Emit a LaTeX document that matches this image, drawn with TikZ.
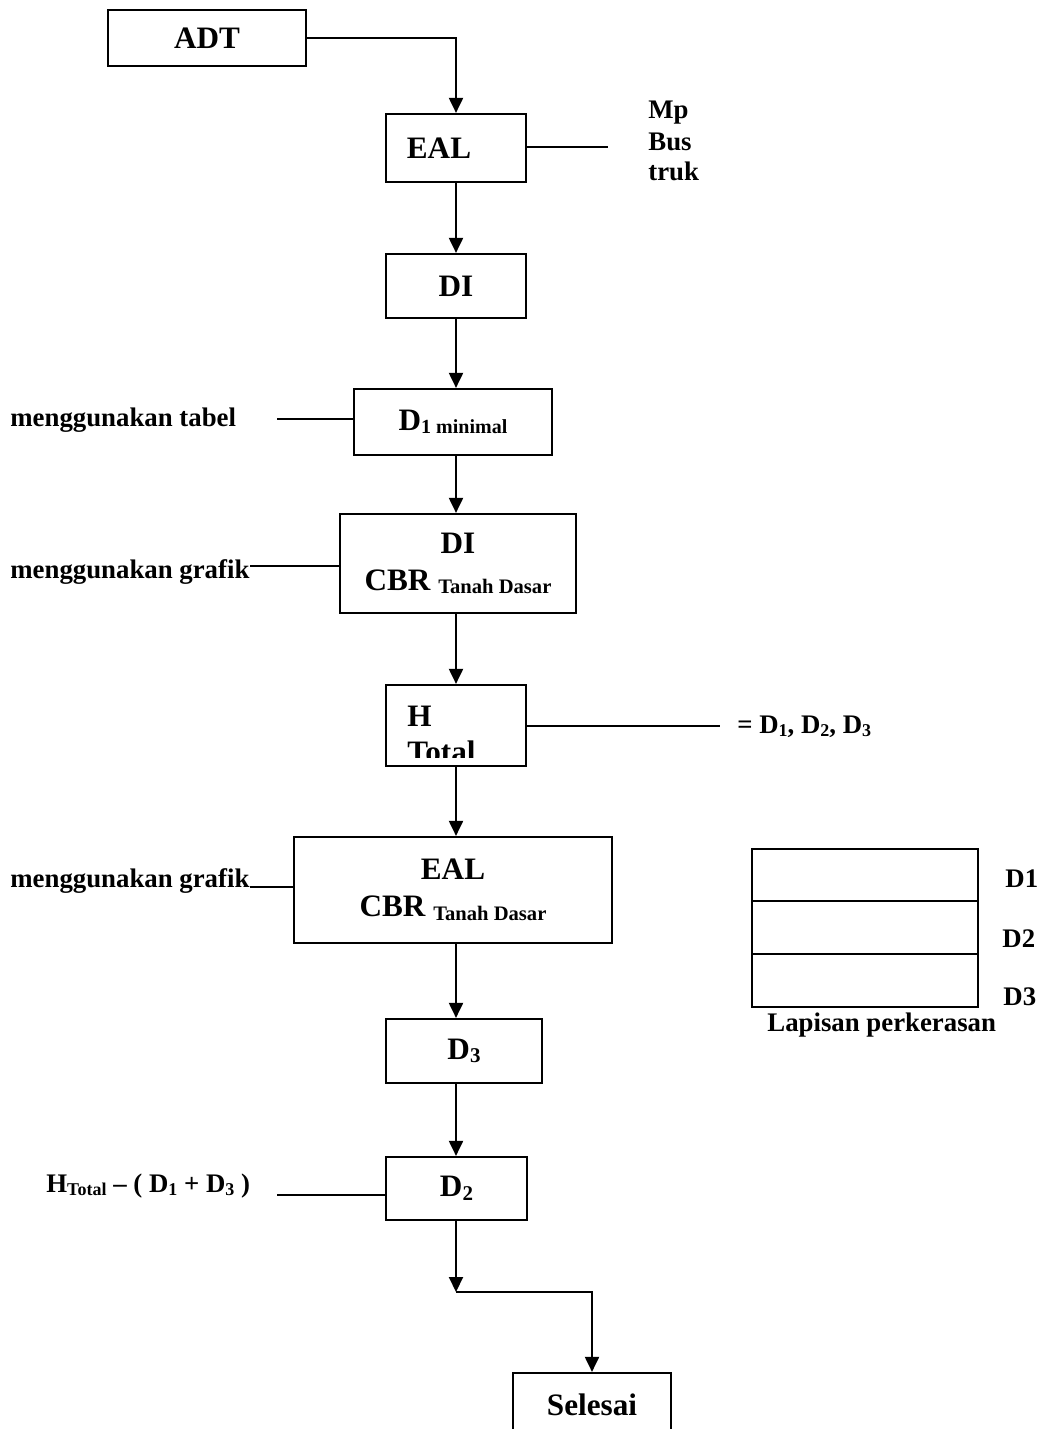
\documentclass[tikz,border=0pt]{standalone}
\usepackage{fontspec}
\setmainfont{Liberation Serif}
\usetikzlibrary{arrows.meta}
\newcommand{\lowsub}[2][10]{\raisebox{-1.8pt}{\fontsize{#1}{#1}\selectfont #2}}

\begin{document}
\begin{tikzpicture}[x=0.5pt, y=-0.5pt,
		box/.style={draw, line width=1.1pt, inner sep=0pt, align=center, font=\fontsize{15.6}{18.5}\selectfont\bfseries},
		txt/.style={inner sep=0pt, anchor=base west, font=\fontsize{15.6}{18.5}\selectfont\bfseries},
		side/.style={inner sep=0pt, anchor=base west, font=\fontsize{13.4}{15.25}\selectfont\bfseries},
		arr/.style={line width=1pt, -{Triangle[length=7.5pt, width=7pt]}},
		link/.style={line width=1pt}]
		\path[use as bounding box] (0,0) rectangle (1043,1429);
		\clip (0,0) rectangle (1043,1429);
		
		\coordinate (spine) at (456,0);
		
		\node[box, minimum width=99pt, minimum height=28pt] (adt) at (207,38) {ADT};
		\node[box, minimum width=70pt, minimum height=34pt] (eal) at (456,148) {EAL\hspace*{17pt}};
		\node[box, minimum width=70pt, minimum height=32pt] (di) at (456,286) {DI};
		\node[box, minimum width=99pt, minimum height=33pt] (dmin) at (453,422) {D\lowsub{1 minimal}};
		\node[box, minimum width=118pt, minimum height=49.5pt] (dicbr) at (458,563.5) {DI\\CBR \lowsub[10.3]{Tanah Dasar}};
		\node[box, minimum width=70pt, minimum height=40.5pt] (htot) at (456,725.5) {};
		\node[box, minimum width=159pt, minimum height=53pt] (ealcbr) at (453,890) {EAL\\CBR \lowsub[10.3]{Tanah Dasar}};
		\node[box, minimum width=78pt, minimum height=32pt] (dtiga) at (464,1051) {D\lowsub[10.5]{3}};
		\node[box, minimum width=70.5pt, minimum height=31.5pt] (ddua) at (456.5,1188.5) {D\lowsub[10.5]{2}};
		\node[box, minimum width=79pt, minimum height=31.5pt] (selesai) at (592,1404.5) {Selesai};
		
		\begin{scope}
			\clip (htot.north west) rectangle ([yshift=5pt]htot.south east);
			\node[txt] (hh) at (407,726) {H};
			\node[txt] (tt) at (407,762) {Total};
		\end{scope}
		
		\draw[arr] (adt.east) -| (eal.north -| spine);
		\draw[arr] (eal.south -| spine) -- (di.north -| spine);
		\draw[arr] (di.south -| spine) -- (dmin.north -| spine);
		\draw[arr] (dmin.south -| spine) -- (dicbr.north -| spine);
		\draw[arr] (dicbr.south -| spine) -- (htot.north -| spine);
		\draw[arr] (htot.south -| spine) -- (ealcbr.north -| spine);
		\draw[arr] (ealcbr.south -| spine) -- (dtiga.north -| spine);
		\draw[arr] (dtiga.south -| spine) -- (ddua.north -| spine);
		\coordinate (belok) at (456,1292);
		\draw[arr] (ddua.south -| spine) -- (belok);
		\draw[arr] (belok) -| (selesai.north);
		
		\node[side] (mp) at (648,119) {Mp};
		\node[side] (bus) at (648,150) {Bus};
		\node[side] (truk) at (648,180) {truk};
		\coordinate (ealkanan) at (608,147);
		\draw[link] (eal.east |- ealkanan) -- (ealkanan);
		
		\node[side] (tabel) at (10,426) {menggunakan tabel};
		\coordinate (tabelkanan) at (277,419);
		\draw[link] (tabelkanan) -- (tabelkanan -| dmin.west);
		
		\node[side] (grafiksatu) at (10,578) {menggunakan grafik};
		\coordinate (grafiksatukanan) at (250,566);
		\draw[link] (grafiksatukanan) -- (grafiksatukanan -| dicbr.west);
		
		\coordinate (hkanan) at (720,726);
		\draw[link] (htot.east |- hkanan) -- (hkanan);
		\node[side] (hasil) at (737,733) {= D\lowsub[9]{1}, D\lowsub[9]{2}, D\lowsub[9]{3}};
		
		\node[side] (grafikdua) at (10,887) {menggunakan grafik};
		\coordinate (grafikduakanan) at (250,887);
		\draw[link] (grafikduakanan) -- (grafikduakanan -| ealcbr.west);
		
		\node[side] (rumus) at (46,1192) {H\lowsub[9]{Total} – ( D\lowsub[9]{1} + D\lowsub[9]{3} )};
		\coordinate (rumuskanan) at (277,1195);
		\draw[link] (rumuskanan) -- (rumuskanan -| ddua.west);
		
		\draw[line width=1.1pt] (752,849) rectangle (978,1007);
		\draw[line width=1.1pt] (752,901) -- (978,901);
		\draw[line width=1.1pt] (752,954) -- (978,954);
		\node[side] (ldsatu) at (1005,887) {D1};
		\node[side] (lddua) at (1002,947) {D2};
		\node[side] (ldtiga) at (1003,1005) {D3};
		\node[side] (lapisan) at (767,1031) {Lapisan perkerasan};
\end{tikzpicture}
\end{document}
